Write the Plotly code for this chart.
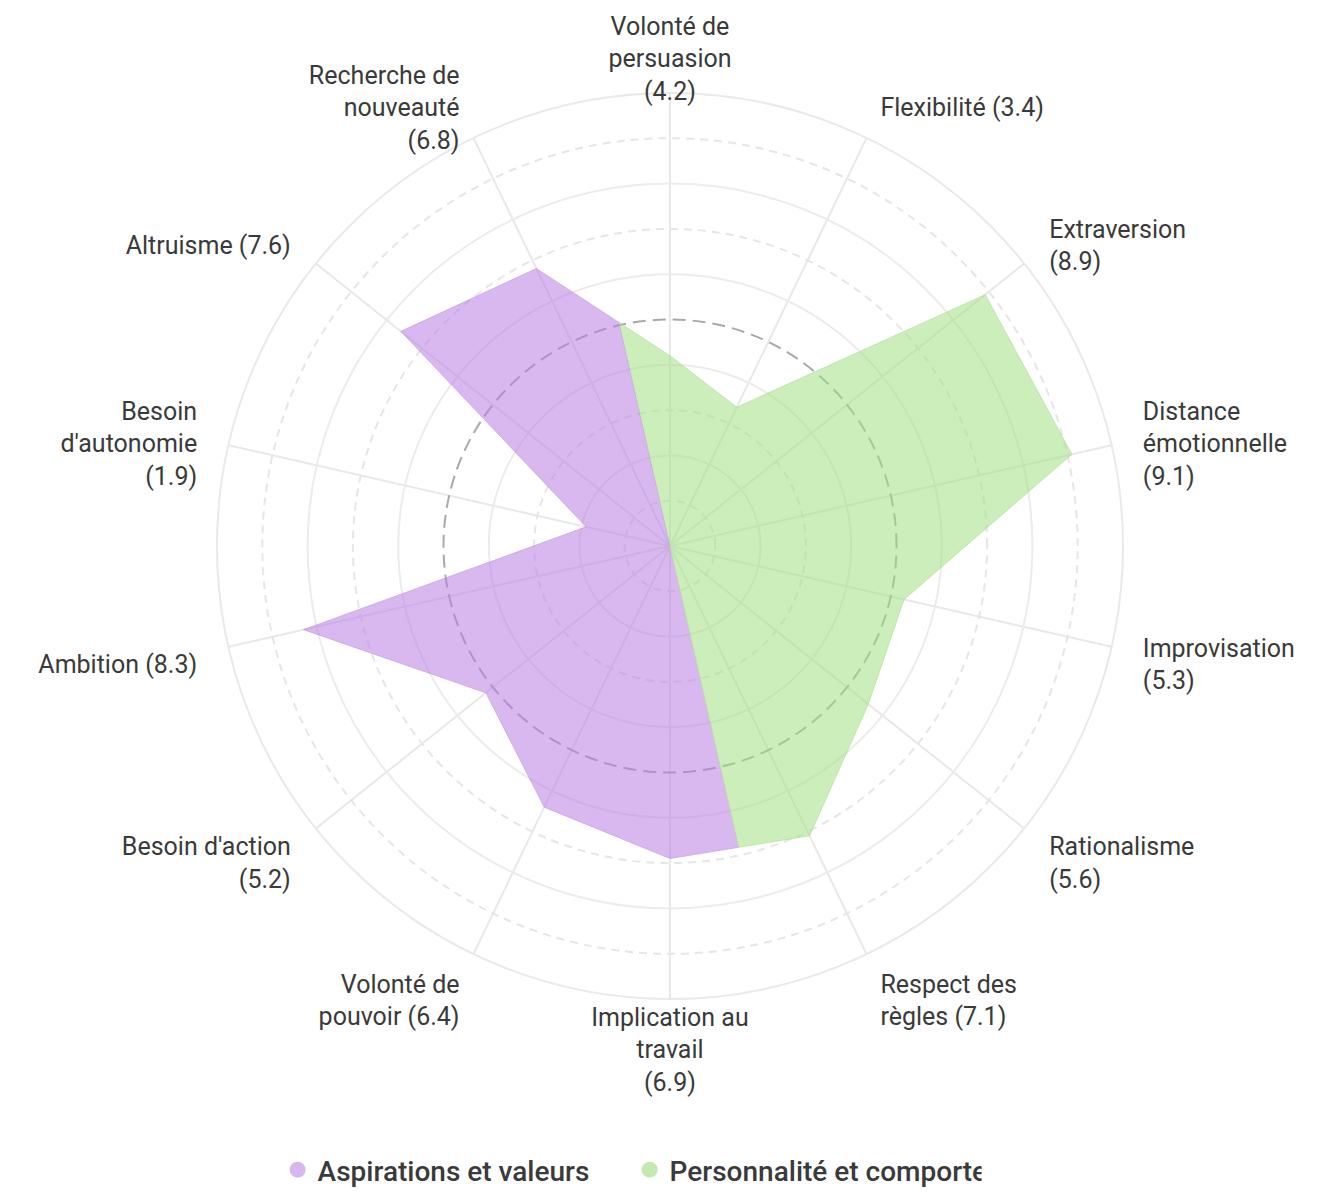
import math
import plotly.graph_objects as go

# ---------------- data ----------------
categories = [
    "Volonté de persuasion", "Flexibilité", "Extraversion", "Distance émotionnelle",
    "Improvisation", "Rationalisme", "Respect des règles", "Implication au travail",
    "Volonté de pouvoir", "Besoin d'action", "Ambition", "Besoin d'autonomie",
    "Altruisme", "Recherche de nouveauté",
]
values = [4.2, 3.4, 8.9, 9.1, 5.3, 5.6, 7.1, 6.9, 6.4, 5.2, 8.3, 1.9, 7.6, 6.8]
tick_labels = [
    "Volonté de<br>persuasion<br>(4.2)", "Flexibilité (3.4)", "Extraversion<br>(8.9)",
    "Distance<br>émotionnelle<br>(9.1)", "Improvisation<br>(5.3)", "Rationalisme<br>(5.6)",
    "Respect des<br>règles (7.1)", "Implication au<br>travail<br>(6.9)", "Volonté de<br>pouvoir (6.4)",
    "Besoin d'action<br>(5.2)", "Ambition (8.3)", "Besoin<br>d'autonomie<br>(1.9)",
    "Altruisme (7.6)", "Recherche de<br>nouveauté<br>(6.8)",
]
series_names = ["Aspirations et valeurs", "Personnalité et comportement"]
green_count = 7  # first 7 axes belong to "Personnalité et comportement"

# ---------------- geometry / style ----------------
W, H = 1317, 1179
CX, CY, R = 662, 538, 453
RMAX = 10
RLAB = 11.2          # radial range of the (invisible) label subplot
N = len(categories)
step = 360 / N
angles = [i * step for i in range(N)]

PURPLE_FILL = "rgba(184,126,224,0.55)"
GREEN_FILL = "rgba(162,224,131,0.55)"
PURPLE_SOLID = "#d7b7ee"
GREEN_SOLID = "#c3eaae"
TXT = "#3a3a3a"


def xy(r, deg):
    a = math.radians(deg)
    return r * math.sin(a), r * math.cos(a)


def ray_cut(i, j, deg):
    """radius where polygon edge (i -> j) crosses the ray at angle deg"""
    x1, y1 = xy(values[i], angles[i])
    x2, y2 = xy(values[j], angles[j])
    ux, uy = xy(1, deg)
    cr = lambda ax, ay, bx, by: ax * by - ay * bx
    t = -cr(ux, uy, x1, y1) / cr(ux, uy, x2 - x1, y2 - y1)
    return math.hypot(x1 + t * (x2 - x1), y1 + t * (y2 - y1))


top_cut = 360 - step / 2
bot_cut = 180 - step / 2
r_top = ray_cut(N - 1, 0, top_cut)
r_bot = ray_cut(green_count - 1, green_count, bot_cut)

green_r = [r_top] + values[:green_count] + [r_bot, 0]
green_t = [top_cut] + angles[:green_count] + [bot_cut, 0]
purple_r = [r_bot] + values[green_count:] + [r_top, 0]
purple_t = [bot_cut] + angles[green_count:] + [top_cut, 0]

# label positions (pixel offsets converted to data units)
ppu = R / RMAX
lab_r, lab_t, lab_pos = [], [], []
for a in angles:
    s, c = math.sin(math.radians(a)), math.cos(math.radians(a))
    xp = (R + 32) * s
    yp = -(R + 32) * c + (0 + 10.5 * (1 - c))
    lab_r.append(math.hypot(xp, yp) / ppu)
    lab_t.append(math.degrees(math.atan2(xp, -yp)) % 360)
    lab_pos.append("middle center" if abs(s) < 0.1 else ("middle right" if s > 0 else "middle left"))

fig = go.Figure()

for sp in ["polar", "polar2"]:
    fig.add_trace(go.Scatterpolar(r=[None], theta=[None], mode="markers", subplot=sp,
                                  showlegend=False, hoverinfo="skip"))

fig.add_trace(go.Scatterpolar(
    r=purple_r, theta=purple_t, mode="lines", fill="toself", fillcolor=PURPLE_FILL,
    line=dict(color="rgba(190,150,225,0.6)", width=1), subplot="polar3",
    showlegend=False, hoverinfo="skip"))
fig.add_trace(go.Scatterpolar(
    r=green_r, theta=green_t, mode="lines", fill="toself", fillcolor=GREEN_FILL,
    line=dict(color="rgba(170,220,145,0.6)", width=1), subplot="polar3",
    showlegend=False, hoverinfo="skip"))

fig.add_trace(go.Scatterpolar(
    r=lab_r, theta=lab_t, mode="text", text=tick_labels, textposition=lab_pos,
    textfont=dict(family="Roboto", size=25, color=TXT), cliponaxis=False,
    subplot="polar4", showlegend=False, hoverinfo="skip"))

for name, col in zip(series_names, [PURPLE_SOLID, GREEN_SOLID]):
    fig.add_trace(go.Scatterpolar(r=[None], theta=[None], mode="markers", name=name,
                                  marker=dict(size=22, color=col), subplot="polar3"))


def domain(rad):
    return dict(x=[(CX - rad) / W, (CX + rad) / W], y=[(H - CY - rad) / H, (H - CY + rad) / H])


dom = domain(R)
hidden_ang = dict(direction="clockwise", rotation=90, type="linear", thetaunit="degrees",
                  showgrid=False, showline=False, showticklabels=False, ticks="")


def radial(vals, color, width, dash, rmax=RMAX):
    return dict(range=[0, rmax], tickmode="array", tickvals=vals, showticklabels=False,
                ticks="", showline=False, gridcolor=color, gridwidth=width, griddash=dash)


fig.update_layout(
    width=W, height=H,
    margin=dict(l=0, r=0, t=0, b=0, autoexpand=False),
    paper_bgcolor="white",
    polar=dict(domain=dom, bgcolor="white",
               angularaxis=dict(direction="clockwise", rotation=90, type="linear",
                                thetaunit="degrees", tickmode="array", tickvals=angles,
                                showticklabels=False, ticks="", showgrid=True,
                                gridcolor="#e8e8e8", gridwidth=2, showline=True,
                                linecolor="#e9e9e9", linewidth=2),
               radialaxis=radial([2, 4, 6, 8], "#ececec", 2, "solid")),
    polar2=dict(domain=dom, bgcolor="rgba(0,0,0,0)", angularaxis=hidden_ang,
                radialaxis=radial([1, 3, 7, 9], "#e6e6e6", 1.5, "8px,6px")),
    polar3=dict(domain=dom, bgcolor="rgba(0,0,0,0)", angularaxis=hidden_ang,
                radialaxis=radial([5], "#a9a9a9", 2, "13px,7px")),
    polar4=dict(domain=domain(R * RLAB / RMAX), bgcolor="rgba(0,0,0,0)", angularaxis=hidden_ang,
                radialaxis=dict(range=[0, RLAB], visible=False, showgrid=False)),
    showlegend=True,
    legend=dict(orientation="h", x=0.472, xanchor="center", y=17 / H, yanchor="middle",
                font=dict(family="Roboto", size=28, color=TXT, weight=500),
                entrywidth=307, bgcolor="rgba(0,0,0,0)", itemclick=False, itemdoubleclick=False),
)

fig.write_html("out.html")
